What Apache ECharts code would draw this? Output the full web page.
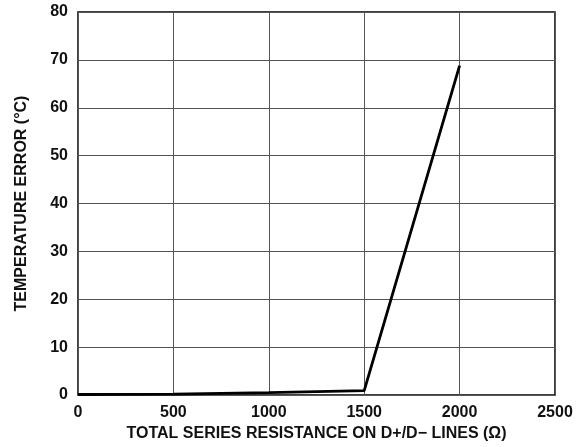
<!DOCTYPE html>
<html><head><meta charset="utf-8">
<script src="https://cdn.jsdelivr.net/npm/echarts@6/dist/echarts.min.js"></script>
<style>html,body{margin:0;padding:0;background:#fff}#c{width:587px;height:447px}</style>
</head><body><div id="c"></div>
<script>
const resistance = [0, 500, 1000, 1500, 2000];
const tempError = [0.1, 0.2, 0.5, 0.9, 68.8];
const xTicks = [0, 500, 1000, 1500, 2000, 2500];
const yTicks = [0, 10, 20, 30, 40, 50, 60, 70, 80];
const xTitle = 'TOTAL SERIES RESISTANCE ON D+/D\u2212 LINES (\u03A9)';
const yTitle = 'TEMPERATURE ERROR (\u00B0C)';

const font = 'Liberation Sans, Arial, Helvetica, sans-serif';
const chart = echarts.init(document.getElementById('c'));
chart.setOption({
  animation: false,
  grid: {left: 78, right: 32, top: 12, bottom: 52, show: true, borderColor: '#000', borderWidth: 1.5},
  xAxis: {
    type: 'value', min: xTicks[0], max: xTicks[xTicks.length-1], interval: 500,
    name: xTitle, nameLocation: 'middle', nameGap: 30,
    nameTextStyle: {fontFamily: font, fontWeight: 'bold', fontSize: 16, color: '#111'},
    axisLine: {show: false}, axisTick: {show: false},
    axisLabel: {fontFamily: font, fontWeight: 'bold', fontSize: 16, color: '#111', margin: 10,
      formatter: v => String(v)},
    splitLine: {show: true, lineStyle: {color: '#555', width: 1}}
  },
  yAxis: {
    type: 'value', min: yTicks[0], max: yTicks[yTicks.length-1], interval: 10,
    name: yTitle, nameLocation: 'middle', nameGap: 48,
    nameTextStyle: {fontFamily: font, fontWeight: 'bold', fontSize: 16, color: '#111'},
    axisLine: {show: false}, axisTick: {show: false},
    axisLabel: {fontFamily: font, fontWeight: 'bold', fontSize: 16, color: '#111', margin: 10,
      formatter: v => String(v)},
    splitLine: {show: true, lineStyle: {color: '#555', width: 1}}
  },
  series: [{
    type: 'line', data: resistance.map((r, i) => [r, tempError[i]]),
    showSymbol: false, lineStyle: {color: '#000', width: 2.8}
  }]
});
</script></body></html>
